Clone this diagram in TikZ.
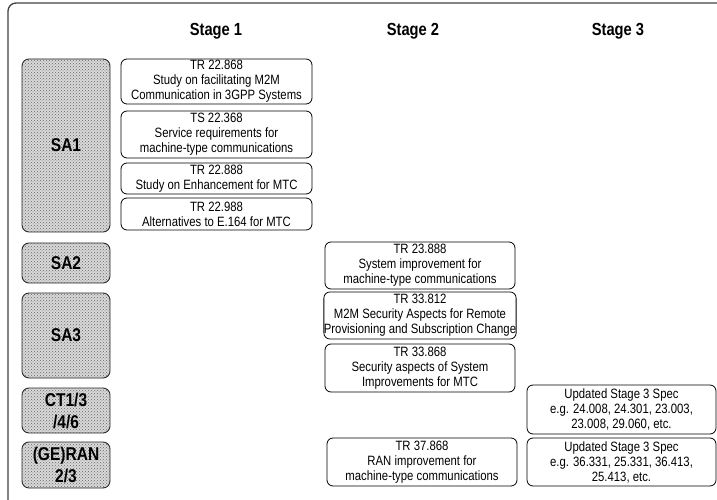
\documentclass[tikz,border=0pt]{standalone}
\usepackage{fontspec}
\setmainfont{Liberation Sans}[FakeStretch=0.84]
\usetikzlibrary{patterns}
\begin{document}
\begin{tikzpicture}[x=1pt,y=-1pt,
  doc/.style={draw=black, line width=0.8pt, rounded corners=6pt, align=center,
    inner sep=0pt, font=\fontsize{13.5}{15}\selectfont},
  grp/.style={draw=black!85, line width=0.9pt, rounded corners=7pt, fill=black!15,
    postaction={pattern=crosshatch dots, pattern color=black!60},
    align=center, inner sep=0pt, minimum width=88pt, text depth=0pt,
    font=\fontsize{18.5}{22}\selectfont\bfseries},
  hdr/.style={font=\fontsize{17.5}{19}\selectfont\bfseries, inner sep=0pt}]
\useasboundingbox (0,0) rectangle (717,500);
\clip (0,0) rectangle (717,500);
\draw[line width=1.3pt, black!75, rounded corners=8pt] (8,530) -- (8,3) -- (740,3);
% headers
\node[hdr] (h1) at (216,31) {Stage 1};
\node[hdr] (h2) at (413,31) {Stage 2};
\node[hdr] (h3) at (618,31) {Stage 3};
% groups
\node[grp, minimum height=173pt] (sa1) at (66,145.5) {SA1};
\node[grp, minimum height=40pt] (sa2) at (66,263) {SA2};
\node[grp, minimum height=85pt] (sa3) at (66,335.5) {SA3};
\node[grp, minimum height=45pt] (ct) at (66,410.5) {CT1/3\\/4/6};
\node[grp, minimum height=46pt] (ran) at (66,465) {(GE)RAN\\2/3};
% stage 1
\node[doc, minimum width=191pt, minimum height=45pt] (s1a) at (216.5,81.5)
  {TR 22.868\\Study on facilitating M2M\\Communication in 3GPP Systems};
\node[doc, minimum width=191pt, minimum height=47pt] (s1b) at (216.5,134.5)
  {TS 22.368\\Service requirements for\\machine-type communications};
\node[doc, minimum width=191pt, minimum height=31pt] (s1c) at (216.5,178.5)
  {TR 22.888\\Study on Enhancement for MTC};
\node[doc, minimum width=191pt, minimum height=32pt] (s1d) at (216.5,214)
  {TR 22.988\\Alternatives to E.164 for MTC};
% stage 2
\node[doc, minimum width=190pt, minimum height=47pt] (s2a) at (420,265.5)
  {TR 23.888\\System improvement for\\machine-type communications};
\node[doc, minimum width=190pt, minimum height=47pt] (s2b) at (420,315.5)
  {TR 33.812\\M2M Security Aspects for Remote\\Provisioning and Subscription Change};
\node[doc, minimum width=190pt, minimum height=48pt] (s2c) at (420,368)
  {TR 33.868\\Security aspects of System\\Improvements for MTC};
\node[doc, minimum width=190pt, minimum height=48pt] (s2d) at (422,462)
  {TR 37.868\\RAN improvement for\\machine-type communications};
% stage 3
\node[doc, minimum width=189pt, minimum height=49pt] (s3a) at (621.5,409.5)
  {Updated Stage 3 Spec\\e.g. 24.008, 24.301, 23.003,\\23.008, 29.060, etc.};
\node[doc, minimum width=189pt, minimum height=48pt] (s3b) at (621.5,462)
  {Updated Stage 3 Spec\\e.g. 36.331, 25.331, 36.413,\\25.413, etc.};
\end{tikzpicture}
\end{document}
